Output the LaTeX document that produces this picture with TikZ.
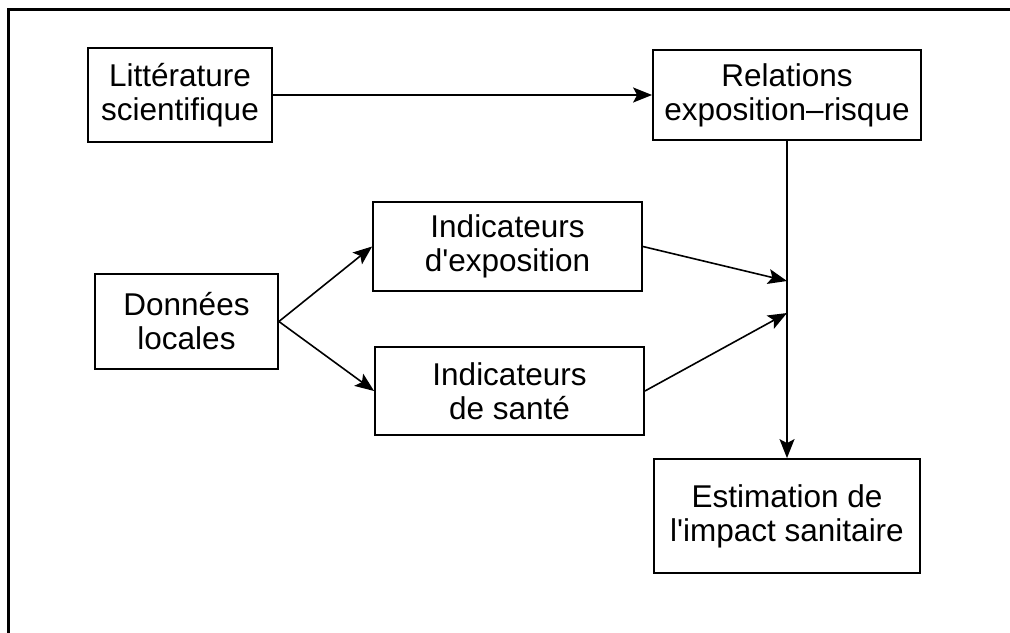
\documentclass[tikz,border=0pt]{standalone}
\usepackage{fontspec}
\setmainfont{Liberation Sans}
\usetikzlibrary{arrows.meta}
\tikzset{
	bloc/.style={draw, line width=0.9pt, align=center, inner sep=0pt, font=\fontsize{15.75}{17}\selectfont},
	fleche/.style={-{Stealth[length=9.5pt,width=7.5pt,inset=2pt]}, line width=0.8pt},
}
\begin{document}
\begin{tikzpicture}[x=0.5pt,y=-0.5pt]
			\useasboundingbox (0,0) rectangle (1010,632);
			\draw[line width=1.5pt] (1014,9) -- (8,9) -- (8,636);
			\node[bloc, minimum width=92pt, minimum height=47pt] (lit) at (180,95) {Littérature\\scientifique};
			\node[bloc, minimum width=134pt, minimum height=45pt] (rel) at (787,95) {Relations\\exposition–risque};
			\node[bloc, minimum width=134.5pt, minimum height=44.5pt] (expo) at (507.5,246.5) {Indicateurs\\d\textquotesingle exposition};
			\node[bloc, minimum width=91.5pt, minimum height=47.5pt] (don) at (186.5,321.5) {Données\\locales};
			\node[bloc, minimum width=134.5pt, minimum height=44pt] (sante) at (509.5,391) {Indicateurs\\de santé};
			\node[bloc, minimum width=133pt, minimum height=57pt] (est) at (787,516) {Estimation de\\l\textquotesingle impact sanitaire};
			\coordinate (j1) at (787,281);
			\coordinate (j2) at (787,313);
			\path[fleche]
			(lit) edge (rel)
			(rel) edge (est)
			(don.east) edge (expo.west)
			(don.east) edge (sante.west)
			(expo.east) edge (j1)
			(sante.east) edge (j2);
		\end{tikzpicture}
\end{document}
